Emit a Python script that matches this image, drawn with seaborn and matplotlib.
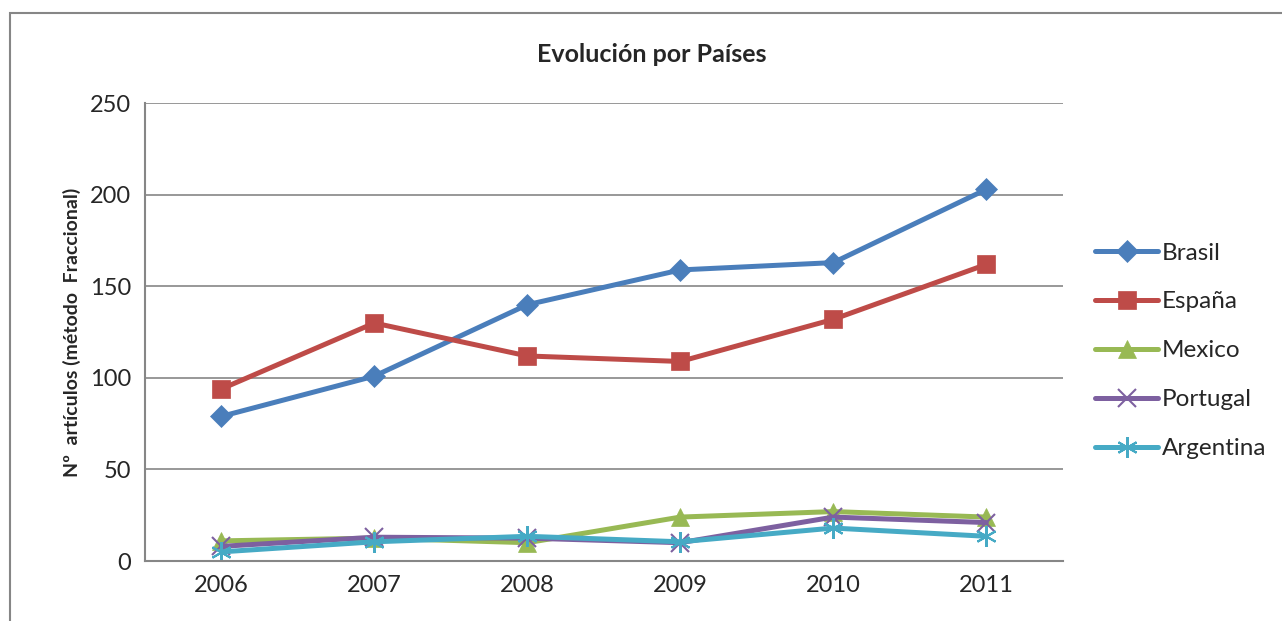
import pandas as pd
import matplotlib.pyplot as plt
import matplotlib.patches as mpatches
import seaborn as sns

years = ['2006', '2007', '2008', '2009', '2010', '2011']
brasil = [79, 101, 140, 159, 163, 203]
espana = [94, 130, 112, 109, 132, 162]
mexico = [11, 12.5, 10, 24, 27, 24]
portugal = [8, 13, 12.5, 10, 24, 21]
argentina = [5, 10.5, 13.5, 10.5, 18, 13.5]

series = [
    ('Brasil', brasil, '#4A7EBB', 'D', 11),
    ('España', espana, '#BE4B48', 's', 13),
    ('Mexico', mexico, '#98B954', '^', 13),
    ('Portugal', portugal, '#7D60A0', 'x', 13),
    ('Argentina', argentina, '#46AAC5', (6, 2, 0), 15),
]

sns.set_style('white')
plt.rcParams['font.family'] = ['Lato', 'DejaVu Sans']

fig = plt.figure(figsize=(12.82, 6.21), dpi=100)
ax = fig.add_axes([0.113, 0.0966, 0.716, 0.737])

# outer chart frame
fig.patches.append(mpatches.Rectangle((10 / 1282, -0.01), 1.1, 1 - 13 / 621 + 0.01,
                                      transform=fig.transFigure, fill=False,
                                      edgecolor='#868686', linewidth=1.5))

for name, vals, color, marker, ms in series:
    df = pd.DataFrame({'year': years, 'value': vals})
    sns.lineplot(data=df, x='year', y='value', ax=ax, color=color, linewidth=3.6,
                 marker=marker, markersize=ms, markeredgecolor=color,
                 markeredgewidth=1.5 if marker in ('x', (6, 2, 0)) else 0.5,
                 label=name, sort=False)

ax.set_ylim(0, 250)
ax.set_xlim(-0.5, 5.5)
ax.set_yticks(range(0, 251, 50))
ax.yaxis.grid(True, color='#868686', linewidth=1.2)
ax.set_axisbelow(True)
for s in ['top', 'right']:
    ax.spines[s].set_visible(False)
for s in ['left', 'bottom']:
    ax.spines[s].set_color('#868686')
    ax.spines[s].set_linewidth(1.5)
ax.tick_params(axis='both', labelsize=17, length=0, pad=10)
ax.set_xlabel('')
ax.set_ylabel('Nº  artículos (método  Fraccional)', fontsize=14, fontweight='bold', labelpad=6)

fig.text(0.508, 1 - 55 / 621, 'Evolución por Países', ha='center', va='center',
         fontsize=18, fontweight='bold')

ax.legend(loc='center left', bbox_to_anchor=(1.035, 0.459), frameon=False, fontsize=17.5,
          handlelength=2.6, handletextpad=0.15, labelspacing=1.15, borderaxespad=0,
          borderpad=0)

plt.savefig('out.png', dpi=100)
